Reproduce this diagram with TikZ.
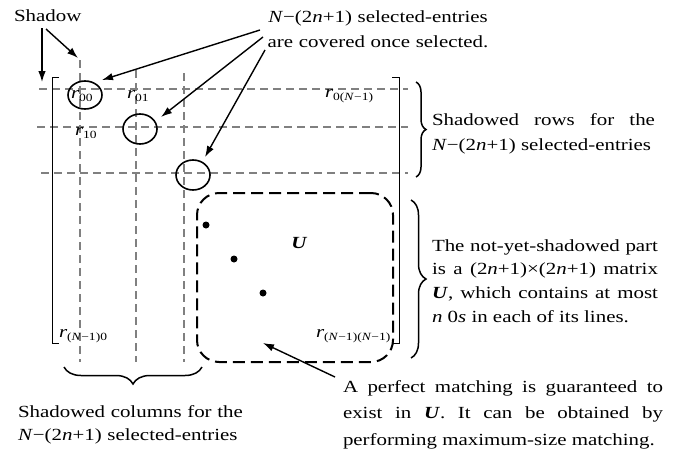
\documentclass[tikz,border=0pt]{standalone}
\usepackage{fontspec}
\setmainfont{Liberation Serif}[FakeStretch=1.23]
\usetikzlibrary{arrows.meta,shapes.geometric,decorations.pathreplacing}
\definecolor{gridgray}{RGB}{128,128,128}
\newcommand\fstrut{\rule{0pt}{14pt}}
\newcommand\jbox[2]{\parbox[t]{#1}{\rightskip=0pt\relax\parfillskip=0pt plus 1fil\relax\tolerance=9999\relax\hyphenpenalty=10000\relax\exhyphenpenalty=10000\relax\parindent=0pt\relax\fstrut #2}}
\newcommand\rsub[1]{\textit{r}\raisebox{-3pt}{\fontsize{11}{12}\selectfont #1}}
\newcommand\Nm{\textit{N}−(2\textit{n}+1)}
\begin{document}
\begin{tikzpicture}[x=1pt,y=-1pt,
  txt/.style={font=\fontsize{17}{24}\selectfont, inner sep=0pt, outer sep=0pt},
  jtxt/.style={txt, anchor=north west, font=\fontsize{17}{#1}\selectfont},
  gridline/.style={draw=gridgray, line width=1.3pt, dash pattern=on 8pt off 5pt},
  ubox/.style={draw, line width=2pt, dash pattern=on 12pt off 6pt, rounded corners=22pt, inner sep=0pt},
  arr/.style={-{Latex[length=11pt,width=7.5pt]}, line width=1.4pt},
  brk/.style={line width=0.9pt},
  bracedeco/.style={decorate, decoration={brace, amplitude=#1}, line width=1.5pt},
  sel/.style={draw, ellipse, line width=1.6pt, minimum width=34pt, minimum height=#1, inner sep=0pt},
  dotmark/.style={circle, fill, inner sep=0pt, minimum size=7pt}]
\useasboundingbox (0,0) rectangle (693,458);
\fill[white] (0,0) rectangle (693,458);
% shadow grid lines
\draw[gridline] (39,89) -- (408,89);
\draw[gridline] (37,127) -- (408,127);
\draw[gridline] (41,173) -- (408,173);
\draw[gridline] (80,60) -- (80,362);
\draw[gridline] (136,70) -- (136,362);
\draw[gridline] (184,73) -- (184,362);
% matrix brackets
\draw[brk] (59,77) -- (52,77) -- (52,343) -- (59,343);
\draw[brk] (392,77) -- (399,77) -- (399,343) -- (392,343);
% U box
\node[ubox, minimum width=196pt, minimum height=169pt] (ubox) at (295,277.5) {};
\node[txt, font=\fontsize{17}{20}\selectfont\bfseries\itshape] (ulab) at (299,243) {U};
\node[dotmark] (d1) at (206,225) {};
\node[dotmark] (d2) at (234,259) {};
\node[dotmark] (d3) at (263,293) {};
% entries
\node[txt, anchor=base west] (r00) at (71,98) {\rsub{00}};
\node[txt, anchor=base west] (r01) at (127,98) {\rsub{01}};
\node[txt, anchor=base west] (r10) at (75,135) {\rsub{10}};
\node[txt, anchor=base west] (r0N) at (325,97) {\rsub{0(\textit{N}−1)}};
\node[txt, anchor=base west] (rN0) at (59,337) {\rsub{(\textit{N}−1)0}};
\node[txt, anchor=base west] (rNN) at (316,337) {\rsub{(\textit{N}−1)(\textit{N}−1)}};
% selected circles
\node[sel=28pt] (c1) at (85,95) {};
\node[sel=30pt] (c2) at (140,129) {};
\node[sel=30pt] (c3) at (193,175) {};
% braces
\draw[bracedeco=10pt] (416,82) -- (416,177);
\draw[bracedeco=15pt] (411,200) -- (411,358);
\draw[bracedeco=17pt] (202,367) -- (64,367);
% texts
\node[txt, anchor=base west] (shadow) at (14,21) {Shadow};
\node[txt, anchor=north, text width=240pt, align=center, font=\fontsize{17}{25}\selectfont] (seltxt) at (378,8) {\fstrut\Nm{} selected-entries\\are covered once selected.};
\node[jtxt=25pt] (rows) at (432,111) {\jbox{223pt}{Shadowed rows for the\linebreak \Nm{} selected-entries}};
\node[jtxt=23.7pt] (notyet) at (432,237) {\jbox{226pt}{The not-yet-shadowed part\linebreak is a (2\textit{n}+1)×(2\textit{n}+1) matrix\linebreak \textbf{\textit{U}}, which contains at most\linebreak \textit{n} 0\textit{s} in each of its lines.}};
\node[jtxt=26.5pt] (perfect) at (343,378) {\jbox{320pt}{A perfect matching is guaranteed to\linebreak exist in \textbf{\textit{U}}. It can be obtained by\linebreak performing maximum-size matching.}};
\node[txt, anchor=north west, text width=250pt, align=left, font=\fontsize{17}{23}\selectfont] (cols) at (18,403) {\fstrut Shadowed columns for the\\\Nm{} selected-entries};
% arrows
\coordinate (p1) at (42,28); \coordinate (q1) at (42,82);
\coordinate (p2) at (46,29); \coordinate (q2) at (78,58);
\coordinate (p3) at (260,30); \coordinate (q3) at (102,80);
\coordinate (p4) at (263,37); \coordinate (q4) at (161,117);
\coordinate (p5) at (265,50); \coordinate (q5) at (205,157);
\coordinate (p6) at (335,377); \coordinate (q6) at (263,343);
\draw[arr] (p1) -- (q1);
\draw[arr] (p2) -- (q2);
\draw[arr] (p3) -- (q3);
\draw[arr] (p4) -- (q4);
\draw[arr] (p5) -- (q5);
\draw[arr] (p6) -- (q6);
\end{tikzpicture}
\end{document}
